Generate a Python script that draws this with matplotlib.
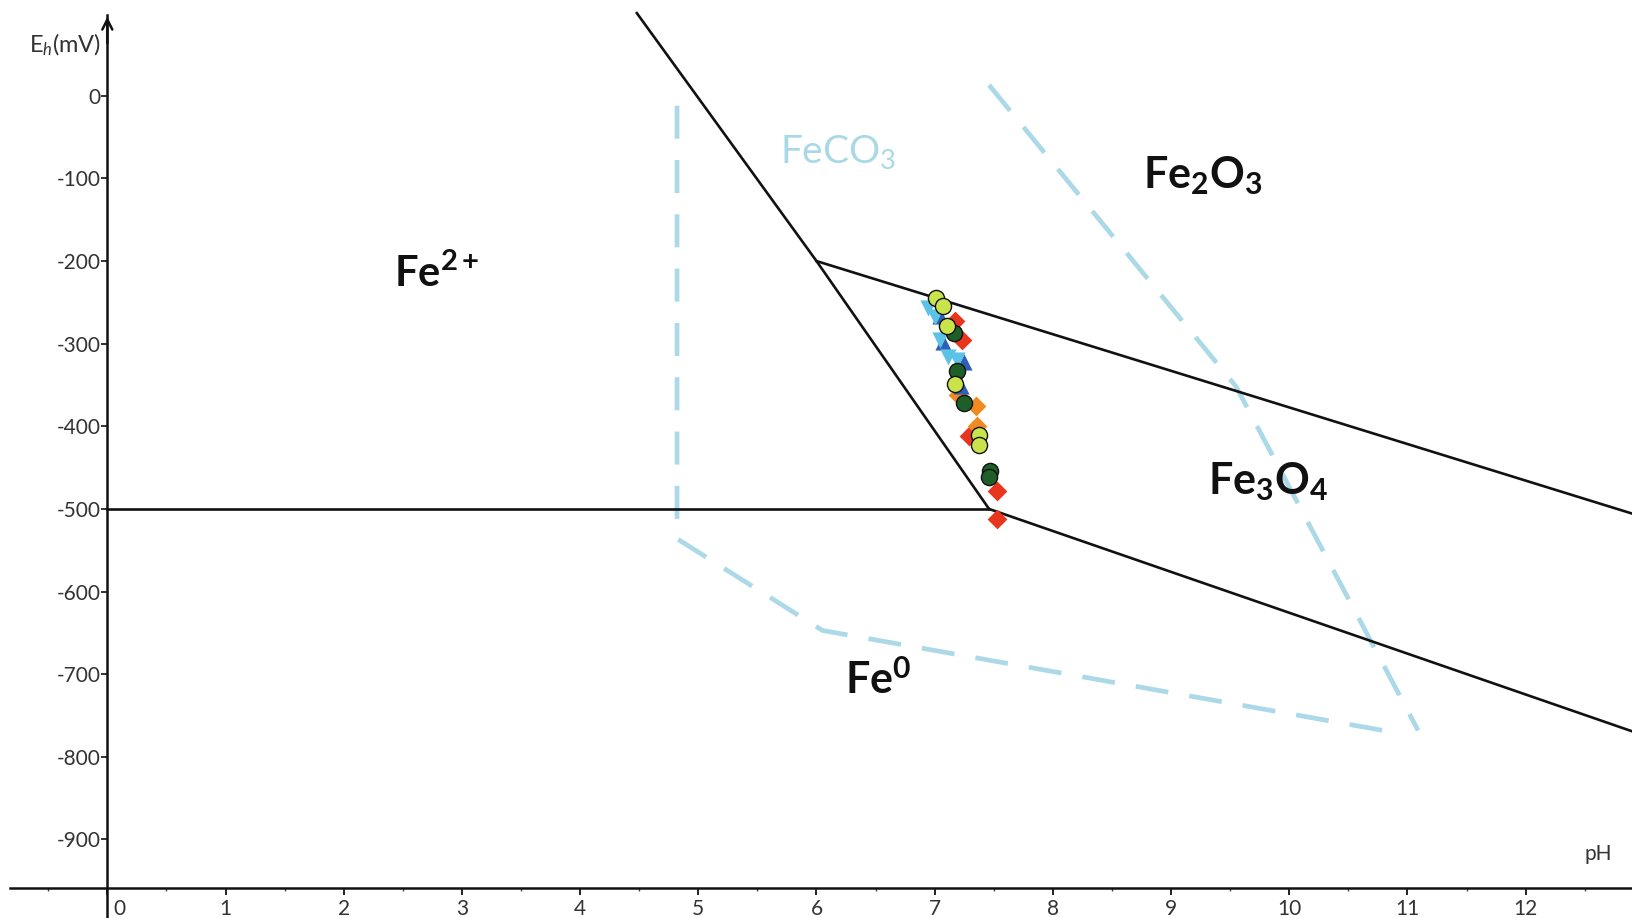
import matplotlib
matplotlib.use('Agg')
import matplotlib.pyplot as plt
from matplotlib.ticker import FixedLocator
import matplotlib.transforms as mtransforms

plt.rcParams['mathtext.fontset'] = 'custom'
plt.rcParams['mathtext.rm'] = 'Lato'
plt.rcParams['mathtext.it'] = 'Lato:italic'
plt.rcParams['mathtext.bf'] = 'Lato:bold'
plt.rcParams['axes.unicode_minus'] = False
plt.rcParams['font.family'] = ['Lato', 'DejaVu Sans']

# ---------------- data ----------------
# stability-field boundaries (pH, Eh in mV)
fe2_fe0_ph = [0.0, 7.46]
fe2_fe0_eh = [-500, -500]
fe2_oxide_ph = [4.48, 6.0, 7.46]
fe2_oxide_eh = [100, -200, -500]
fe2o3_fe3o4_ph = [6.0, 13.0]
fe2o3_fe3o4_eh = [-200, -510]
fe3o4_fe0_ph = [7.46, 13.0]
fe3o4_fe0_eh = [-500, -774]
# FeCO3 field (dashed)
feco3_left_ph = [4.82, 4.82, 6.05, 10.91]
feco3_left_eh = [-12, -536, -647, -771]
feco3_right_ph = [7.46, 9.55, 11.09]
feco3_right_eh = [13, -352, -768]

# measured samples
yg_ph = [7.015, 7.07, 7.10, 7.176, 7.377, 7.377]
yg_eh = [-245, -255, -279, -349, -411, -423]
dg_ph = [7.166, 7.189, 7.25, 7.47, 7.459]
dg_eh = [-287, -333, -372, -454, -461]
red_ph = [7.176, 7.228, 7.29, 7.531, 7.527]
red_eh = [-272, -296, -412, -478, -512]
orange_ph = [7.20, 7.35, 7.36]
orange_eh = [-362, -375, -400]
blue_ph = [7.045, 7.073, 7.245, 7.222]
blue_eh = [-267, -298, -322, -351]
lb_ph = [6.946, 7.003, 7.045, 7.115, 7.186]
lb_eh = [-257, -268, -296, -316, -320]

x_ticks = list(range(0, 13))
y_ticks = [0, -100, -200, -300, -400, -500, -600, -700, -800, -900]

# ---------------- figure ----------------
fig = plt.figure(figsize=(16.33, 9.18), dpi=100)
ax = fig.add_axes([0, 0, 1, 1])
ax.set_xlim(-0.908, 12.908)
ax.set_ylim(-995, 115.9)

black_lw = 1.9
ax.plot(fe2_fe0_ph, fe2_fe0_eh, color='#111111', lw=black_lw, zorder=3)
ax.plot(fe2_oxide_ph, fe2_oxide_eh, color='#111111', lw=black_lw, zorder=3)
ax.plot(fe2o3_fe3o4_ph, fe2o3_fe3o4_eh, color='#111111', lw=black_lw, zorder=3)
ax.plot(fe3o4_fe0_ph, fe3o4_fe0_eh, color='#111111', lw=black_lw, zorder=3)

dash_col = '#acd9e7'
ax.plot(feco3_left_ph, feco3_left_eh, color=dash_col, lw=3.4, ls=(0, (7, 4.5)), zorder=2)
ax.plot(feco3_right_ph, feco3_right_eh, color=dash_col, lw=3.4, ls=(0, (7, 4.5)), zorder=2)

ms = 135
ax.scatter(red_ph, red_eh, marker='D', s=ms * 0.75, color='#e8361e', zorder=4, linewidths=0)
ax.scatter(orange_ph, orange_eh, marker='D', s=ms * 0.75, color='#f28a22', zorder=4, linewidths=0)
ax.scatter(blue_ph, blue_eh, marker='^', s=ms, color='#2f5fb8', zorder=5, linewidths=0)
ax.scatter(lb_ph, lb_eh, marker='v', s=ms, color='#5cc3e6', zorder=5, linewidths=0)
ax.scatter(dg_ph, dg_eh, marker='o', s=ms, color='#1e5e28', edgecolors='#111111', linewidths=1.0, zorder=6)
ax.scatter(yg_ph, yg_eh, marker='o', s=ms, color='#c9e34a', edgecolors='#111111', linewidths=1.0, zorder=7)

# region labels
lab_col = '#111111'
ax.text(2.79, -215, r'$\mathbf{Fe}^{\mathbf{2+}}$', fontsize=30, color=lab_col, ha='center', va='center')
ax.text(9.27, -97, r'$\mathbf{Fe}_{\mathbf{2}}\mathbf{O}_{\mathbf{3}}$', fontsize=31, color=lab_col, ha='center', va='center')
ax.text(9.82, -467, r'$\mathbf{Fe}_{\mathbf{3}}\mathbf{O}_{\mathbf{4}}$', fontsize=31, color=lab_col, ha='center', va='center')
ax.text(6.52, -707, r'$\mathbf{Fe}^{\mathbf{0}}$', fontsize=31, color=lab_col, ha='center', va='center')
ax.text(6.18, -68, r'$\mathrm{FeCO}_{\mathrm{3}}$', fontsize=28, color='#a9d8e6', ha='center', va='center')

# axis labels
ax.text(-0.36, 62, r'$\mathrm{E}_{h}\mathrm{(mV)}$', fontsize=17, color='#333333', ha='center', va='center')
ax.text(12.617, -918, 'pH', fontsize=15, color='#333333', ha='center', va='center')

# axes styling (GeoGebra-like crossing axes)
for s in ['top', 'right']:
    ax.spines[s].set_visible(False)
ax.spines['left'].set_position(('data', 0))
ax.spines['bottom'].set_position(('data', -959))
ax.spines['left'].set_bounds(-995, 98)
ax.spines['bottom'].set_bounds(-0.82, 12.908)
ax.spines['left'].set_linewidth(1.8)
ax.spines['bottom'].set_linewidth(1.8)
ax.spines['left'].set_color('#111111')
ax.spines['bottom'].set_color('#111111')
ax.annotate('', xy=(0, 99), xytext=(0, 60),
            arrowprops=dict(arrowstyle='->', color='#111111', lw=1.8, mutation_scale=18))

ax.set_xticks(x_ticks)
ax.set_xticklabels([str(t) for t in x_ticks])
ax.xaxis.set_minor_locator(FixedLocator([t + 0.5 for t in range(-1, 13)]))
ax.set_yticks(y_ticks)
ax.set_yticklabels([str(t) for t in y_ticks])
ax.tick_params(axis='x', which='major', direction='out', length=5, width=1.3, pad=3,
               labelsize=15, labelcolor='#333333', color='#111111')
ax.tick_params(axis='x', which='minor', direction='out', length=2.5, width=1.0, color='#444444')
ax.tick_params(axis='y', which='major', direction='out', length=4, width=1.2, pad=1,
               labelsize=15, labelcolor='#333333', color='#111111')

lbl0 = ax.get_xticklabels()[0]
lbl0.set_horizontalalignment('left')
lbl0.set_transform(lbl0.get_transform() + mtransforms.ScaledTranslation(6 / 100, 0, fig.dpi_scale_trans))

fig.savefig('out.png', dpi=100)
